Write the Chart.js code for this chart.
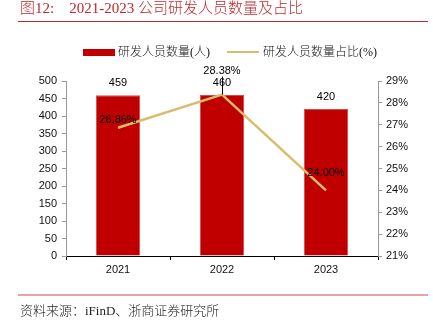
<!DOCTYPE html>
<html><head><meta charset="utf-8">
<script src="https://cdn.jsdelivr.net/npm/chart.js@4/dist/chart.umd.min.js"></script>
<style>
html,body{margin:0;padding:0;background:#fff;}
#wrap{position:relative;width:433px;height:326px;overflow:hidden;}
#c{position:absolute;left:0;top:0;}
.title{position:absolute;left:20px;top:-2px;font:300 15px "Liberation Serif","Noto Sans CJK SC",serif;color:#c0272d;white-space:nowrap;line-height:20px;}
.rule1{position:absolute;left:18px;top:21px;width:410px;height:1px;background:#c0272d;}
.rule2{position:absolute;left:18px;top:294px;width:410px;height:2px;background:#e8a3a3;}
.src{position:absolute;left:20px;top:302px;font:300 13px "Liberation Serif","Noto Sans CJK SC",serif;color:#222;white-space:nowrap;line-height:18px;}
.leg{position:absolute;top:44px;font:300 12px "Liberation Serif","Noto Sans CJK SC",serif;color:#111;white-space:nowrap;line-height:16px;}
.box{position:absolute;left:83px;top:49px;width:32px;height:7px;background:#c00000;}
.ln{position:absolute;left:227px;top:51px;width:32px;height:2px;background:#d9bc6c;}
</style></head>
<body><div id="wrap">
<canvas id="c" width="433" height="326"></canvas>
<div class="title">图12:&nbsp;&nbsp;&nbsp;&nbsp;2021-2023 公司研发人员数量及占比</div>
<div class="rule1"></div>
<div class="box"></div><div class="leg" style="left:118px">研发人员数量(人)</div>
<div class="ln"></div><div class="leg" style="left:263px">研发人员数量占比(%)</div>
<div class="rule2"></div>
<div class="src">资料来源：iFinD、浙商证券研究所</div>
</div>
<script>
const categories = ['2021', '2022', '2023'];
const staffCount = [459, 460, 420];
const staffShare = [26.86, 28.38, 24.00];
const shareLabelLift = [8, 24, 17];
const shareLeader = [false, true, false];

const labelPlugin = {
  id: 'valueLabels',
  afterDatasetsDraw(chart) {
    const ctx = chart.ctx;
    ctx.save();
    ctx.font = '11px "Liberation Sans", Arial, sans-serif';
    ctx.fillStyle = '#000';
    ctx.textAlign = 'center';
    ctx.textBaseline = 'middle';
    const bars = chart.getDatasetMeta(0).data;
    bars.forEach((b, i) => ctx.fillText(String(staffCount[i]), b.x, b.y - 12));
    const pts = chart.getDatasetMeta(1).data;
    pts.forEach((p, i) => {
      const ly = p.y - shareLabelLift[i];
      if (shareLeader[i]) {
        ctx.strokeStyle = '#000'; ctx.lineWidth = 1;
        ctx.beginPath(); ctx.moveTo(p.x + 0.5, ly + 6); ctx.lineTo(p.x + 0.5, p.y); ctx.stroke();
      }
      ctx.fillText(staffShare[i].toFixed(2) + '%', p.x, ly);
    });
    ctx.restore();
  }
};

const tickFont = { family: '"Liberation Sans", Arial, sans-serif', size: 11 };
new Chart(document.getElementById('c'), {
  data: {
    labels: categories,
    datasets: [
      { type: 'bar', data: staffCount, backgroundColor: '#c00000', borderColor: '#d84a4a', borderWidth: {left:1,right:1,top:1,bottom:0},
        barPercentage: 0.85, categoryPercentage: 0.5, yAxisID: 'y', order: 2 },
      { type: 'line', data: staffShare, borderColor: '#d9bc6c', borderWidth: 2.5, pointRadius: 0,
        tension: 0, yAxisID: 'y1', order: 1 }
    ]
  },
  options: {
    responsive: false, animation: false,
    layout: { padding: { top: 81, left: 0, right: 0, bottom: 0 } },
    plugins: { legend: { display: false }, tooltip: { enabled: false } },
    scales: {
      x: {
        offset: true,
        grid: { display: true, drawOnChartArea: false, offset: true, tickLength: 4, color: '#000' },
        border: { color: '#000', width: 1 },
        ticks: { font: tickFont, color: '#111', padding: 3 },
        afterFit(s) { s.height = 70; }
      },
      y: {
        position: 'left', min: 0, max: 500,
        ticks: { stepSize: 50, font: tickFont, color: '#111', padding: 5 },
        grid: { display: true, drawOnChartArea: false, tickLength: 4, color: '#999' },
        border: { color: '#999', width: 1 },
        afterFit(s) { s.width = 66; }
      },
      y1: {
        position: 'right', min: 21, max: 29,
        ticks: { stepSize: 1, font: tickFont, color: '#111', padding: 4, callback: v => v + '%' },
        grid: { display: true, drawOnChartArea: false, tickLength: 4, color: '#999' },
        border: { color: '#999', width: 1 },
        afterFit(s) { s.width = 55; }
      }
    }
  },
  plugins: [labelPlugin]
});
</script>
</body></html>
